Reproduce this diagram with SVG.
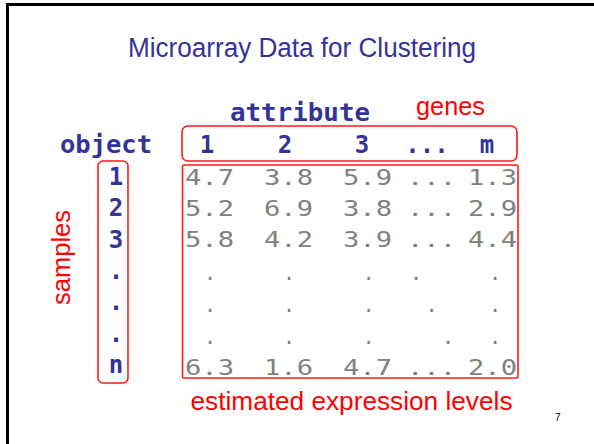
<svg xmlns="http://www.w3.org/2000/svg" width="594" height="444" viewBox="0 0 594 444">
  <style>
    .title { font-family: "Liberation Sans", Arial, sans-serif; font-size: 27px; fill: #333399; }
    .lbl { font-family: "Liberation Sans", Arial, sans-serif; font-size: 26px; fill: #ff0000; }
    .hdr { font-family: "DejaVu Sans Mono", monospace; font-weight: bold; font-size: 24px; fill: #333399; }
    .val { font-family: "DejaVu Sans Mono", monospace; font-size: 21px; fill: #808080; }
    .box { fill: none; stroke: #ff1a1a; stroke-width: 1.6; }
    .page { font-family: "Liberation Sans", Arial, sans-serif; font-size: 10px; fill: #000000; }
  </style>
  <rect width="594" height="444" fill="#ffffff"/>
  <!-- slide frame -->
  <path d="M7.5,444 V4.5 H594" fill="none" stroke="#000000" stroke-width="3"/>

  <g id="title">
    <text class="title" x="302" y="57" text-anchor="middle" textLength="348" lengthAdjust="spacingAndGlyphs">Microarray Data for Clustering</text>
  </g>

  <g id="attribute-label">
    <text class="hdr" x="230" y="121" textLength="140" lengthAdjust="spacingAndGlyphs">attribute</text>
  </g>
  <g id="genes-label">
    <text class="lbl" x="450.5" y="115" text-anchor="middle" textLength="69" lengthAdjust="spacingAndGlyphs">genes</text>
  </g>
  <g id="object-label">
    <text class="hdr" x="60" y="153" textLength="92" lengthAdjust="spacingAndGlyphs">object</text>
  </g>

  <!-- column headers -->
  <g id="genes-box">
    <rect class="box" x="182" y="126" width="335" height="35" rx="6"/>
    <g class="hdr" text-anchor="middle">
      <text x="207" y="153">1</text>
      <text x="285" y="153">2</text>
      <text x="362" y="153">3</text>
      <text x="427" y="153">...</text>
      <text x="487" y="153">m</text>
    </g>
  </g>

  <!-- row headers -->
  <g id="samples-box">
    <rect class="box" x="98" y="161" width="30" height="222" rx="5"/>
    <g class="hdr" text-anchor="middle">
      <text x="116" y="185">1</text>
      <text x="116" y="216">2</text>
      <text x="116" y="247.5">3</text>
      <text x="116" y="279">.</text>
      <text x="116" y="310">.</text>
      <text x="116" y="341.5">.</text>
      <text x="116" y="373">n</text>
    </g>
  </g>
  <g id="samples-label">
    <text class="lbl" transform="translate(70,257.5) rotate(-90)" text-anchor="middle" textLength="95" lengthAdjust="spacingAndGlyphs">samples</text>
  </g>

  <!-- expression matrix -->
  <g id="expression-box">
    <rect class="box" x="182.5" y="165" width="335.5" height="213" rx="1.5"/>
    <g class="val">
      <text x="185" y="185" textLength="49" lengthAdjust="spacingAndGlyphs">4.7</text>
      <text x="264" y="185" textLength="49" lengthAdjust="spacingAndGlyphs">3.8</text>
      <text x="343" y="185" textLength="49" lengthAdjust="spacingAndGlyphs">5.9</text>
      <text x="407" y="185" textLength="49" lengthAdjust="spacingAndGlyphs">...</text>
      <text x="468" y="185" textLength="49" lengthAdjust="spacingAndGlyphs">1.3</text>

      <text x="185" y="216" textLength="49" lengthAdjust="spacingAndGlyphs">5.2</text>
      <text x="264" y="216" textLength="49" lengthAdjust="spacingAndGlyphs">6.9</text>
      <text x="343" y="216" textLength="49" lengthAdjust="spacingAndGlyphs">3.8</text>
      <text x="407" y="216" textLength="49" lengthAdjust="spacingAndGlyphs">...</text>
      <text x="468" y="216" textLength="49" lengthAdjust="spacingAndGlyphs">2.9</text>

      <text x="185" y="247" textLength="49" lengthAdjust="spacingAndGlyphs">5.8</text>
      <text x="264" y="247" textLength="49" lengthAdjust="spacingAndGlyphs">4.2</text>
      <text x="343" y="247" textLength="49" lengthAdjust="spacingAndGlyphs">3.9</text>
      <text x="407" y="247" textLength="49" lengthAdjust="spacingAndGlyphs">...</text>
      <text x="468" y="247" textLength="49" lengthAdjust="spacingAndGlyphs">4.4</text>

      <text x="185" y="375" textLength="49" lengthAdjust="spacingAndGlyphs">6.3</text>
      <text x="264" y="375" textLength="49" lengthAdjust="spacingAndGlyphs">1.6</text>
      <text x="343" y="375" textLength="49" lengthAdjust="spacingAndGlyphs">4.7</text>
      <text x="407" y="375" textLength="49" lengthAdjust="spacingAndGlyphs">...</text>
      <text x="468" y="375" textLength="49" lengthAdjust="spacingAndGlyphs">2.0</text>
    </g>
    <!-- vertical ellipsis rows -->
    <g class="val" text-anchor="middle">
      <text x="210" y="280">.</text>
      <text x="289" y="280">.</text>
      <text x="368.5" y="280">.</text>
      <text x="416" y="280">.</text>
      <text x="495" y="280">.</text>

      <text x="210" y="312">.</text>
      <text x="289" y="312">.</text>
      <text x="368.5" y="312">.</text>
      <text x="431.5" y="312">.</text>
      <text x="495" y="312">.</text>

      <text x="210" y="344">.</text>
      <text x="289" y="344">.</text>
      <text x="368.5" y="344">.</text>
      <text x="448" y="344">.</text>
      <text x="495" y="344">.</text>
    </g>
  </g>
  <g id="expression-label">
    <text class="lbl" x="351.5" y="410" text-anchor="middle" textLength="322" lengthAdjust="spacingAndGlyphs">estimated expression levels</text>
  </g>

  <g id="page-number">
    <text class="page" x="555" y="421">7</text>
  </g>
</svg>
